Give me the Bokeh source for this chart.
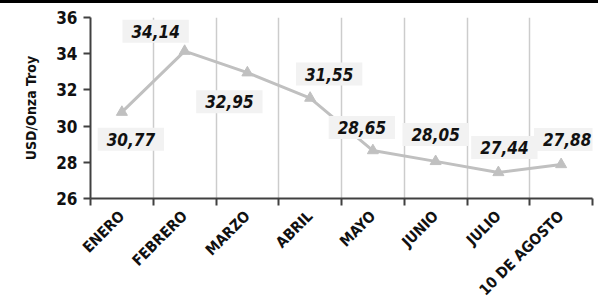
from bokeh.plotting import figure
from bokeh.layouts import column
from bokeh.models import (ColumnDataSource, FixedTicker, Range1d, Div)
from bokeh.core.properties import value
from bokeh.embed import file_html
from bokeh.resources import INLINE

months = ["ENERO", "FEBRERO", "MARZO", "ABRIL", "MAYO", "JUNIO", "JULIO", "10 DE AGOSTO"]
prices = [30.77, 34.14, 32.95, 31.55, 28.65, 28.05, 27.44, 27.88]
price_labels = ["30,77", "34,14", "32,95", "31,55", "28,65", "28,05", "27,44", "27,88"]
y_ticks = [26, 28, 30, 32, 34, 36]

# label offsets (pixels, screen direction: +y is down) relative to each point
dx = [9, -29, -18, 19, -11, 0, 6, 6]
dy = [27, -20, 29, -24, -23, -27, -25, -25]

FONT = "DejaVu Sans Condensed"

xs = [i + 0.5 for i in range(len(months))]
src = ColumnDataSource(dict(x=xs, y=prices, lab=price_labels, dx=dx, dy=dy))

p = figure(width=598, height=305, output_backend="svg", toolbar_location=None,
           x_range=Range1d(0, len(months)), y_range=Range1d(26, 36),
           min_border_left=90, min_border_right=6, min_border_top=14, min_border_bottom=104,
           margin=0)
p.outline_line_color = None
p.background_fill_color = "white"

p.line("x", "y", source=src, line_color="#c0c0c0", line_width=3)
p.scatter("x", "y", source=src, marker="triangle", size=11, fill_color="#c0c0c0",
          line_color="#c0c0c0")

p.text(x="x", y="y", text="lab", source=src, x_offset="dx", y_offset="dy",
       text_align="center", text_baseline="middle",
       text_font=value(FONT), text_font_size="17px", text_font_style="bold italic",
       text_color="#111111", background_fill_color="#f2f2f2", padding=[9, 5])

# x axis
p.xaxis.ticker = FixedTicker(ticks=xs, minor_ticks=list(range(len(months) + 1)))
p.xaxis.major_label_overrides = {x: m for x, m in zip(xs, months)}
p.xaxis.major_label_orientation = 0.785398
p.xaxis.major_tick_out = 0
p.xaxis.major_tick_in = 0
p.xaxis.minor_tick_out = 7
p.xaxis.minor_tick_in = 0
p.xaxis.minor_tick_line_color = "#404040"
p.xaxis.minor_tick_line_width = 2
p.xaxis.axis_line_color = "#404040"
p.xaxis.axis_line_width = 2
p.xaxis.major_label_text_font = FONT
p.xaxis.major_label_text_font_style = "bold"
p.xaxis.major_label_text_font_size = "15px"
p.xaxis.major_label_text_color = "#111111"
p.xaxis.major_label_standoff = 8

p.xgrid.grid_line_color = None
p.xgrid.minor_grid_line_color = "#cccccc"
p.xgrid.minor_grid_line_width = 1.5
p.ygrid.grid_line_color = None

# y axis
p.yaxis.ticker = FixedTicker(ticks=y_ticks, minor_ticks=[])
p.yaxis.major_tick_out = 7
p.yaxis.major_tick_in = 0
p.yaxis.major_tick_line_color = "#404040"
p.yaxis.major_tick_line_width = 2
p.yaxis.axis_line_color = "#404040"
p.yaxis.axis_line_width = 2
p.yaxis.major_label_text_font = FONT
p.yaxis.major_label_text_font_style = "bold"
p.yaxis.major_label_text_font_size = "17px"
p.yaxis.major_label_text_color = "#111111"
p.yaxis.major_label_standoff = 6
p.yaxis.axis_label = "USD/Onza Troy"
p.yaxis.axis_label_text_font = FONT
p.yaxis.axis_label_text_font_style = "bold"
p.yaxis.axis_label_text_font_size = "14px"
p.yaxis.axis_label_text_color = "#111111"
p.yaxis.axis_label_standoff = 14

bar = Div(text="", width=598, height=3, margin=0, styles={"background-color": "black"})

open("out.html", "w").write(file_html(column(bar, p, spacing=0), INLINE))
